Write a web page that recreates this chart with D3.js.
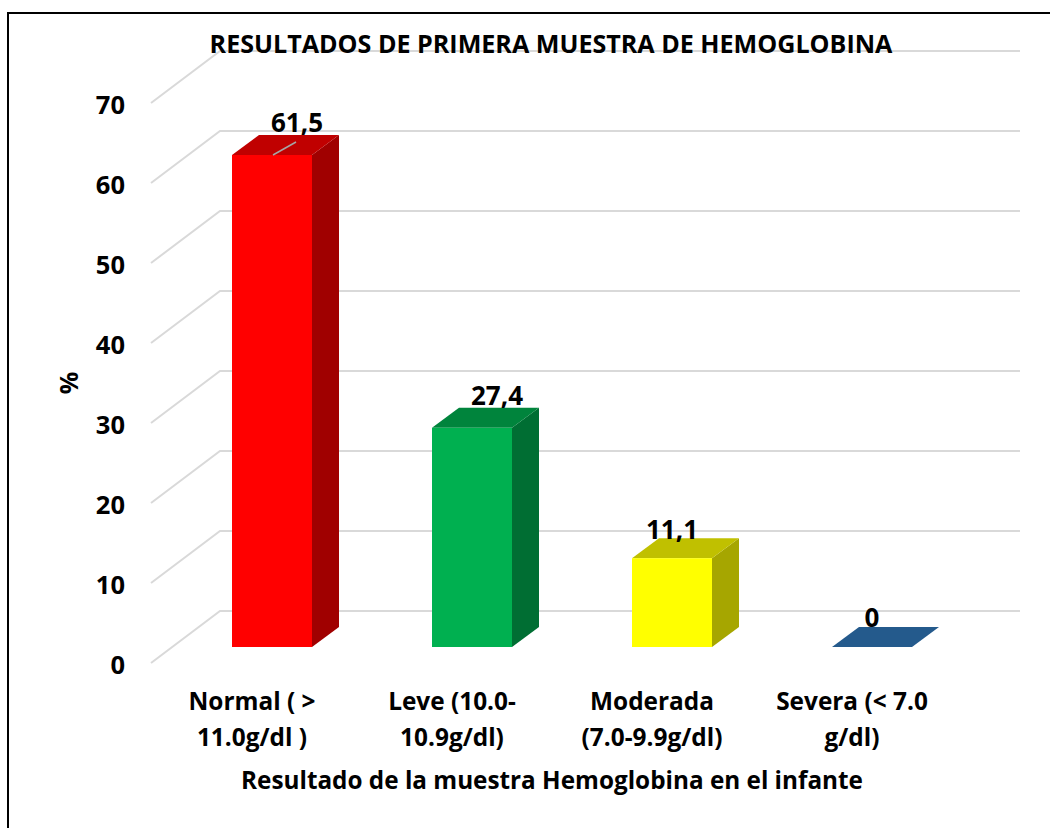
<!DOCTYPE html>
<html>
<head>
<meta charset="utf-8">
<script src="https://cdn.jsdelivr.net/npm/d3@7"></script>
<style>
	html, body { margin: 0; padding: 0; background: #fff; overflow: hidden; }
	svg { display: block; }
	text { font-family: "Open Sans", Lato, sans-serif; font-weight: 700; fill: #000; }
</style>
</head>
<body>
<svg class="chart"></svg>
<script>
var categories = ["Normal ( > 11.0g/dl )", "Leve (10.0- 10.9g/dl)", "Moderada (7.0-9.9g/dl)", "Severa (< 7.0 g/dl)"];
var categoryLines = [["Normal ( >", "11.0g/dl )"], ["Leve (10.0-", "10.9g/dl)"], ["Moderada", "(7.0-9.9g/dl)"], ["Severa (< 7.0", "g/dl)"]];
var values = [61.5, 27.4, 11.1, 0];
var valueLabels = ["61,5", "27,4", "11,1", "0"];
var frontColors = ["#ff0000", "#00b050", "#ffff00", "#2e75b6"];
var topColors = ["#c00000", "#00843c", "#c0c000", "#245a8c"];
var sideColors = ["#a00000", "#006e33", "#a6a600", "#1f4e79"];
var yTicks = [0, 10, 20, 30, 40, 50, 60, 70];

var chartTitle = "RESULTADOS DE PRIMERA MUESTRA DE HEMOGLOBINA";
var xTitle = "Resultado de la muestra Hemoglobina en el infante";
var yTitle = "%";

var width = 1050, height = 828;
var depthX = 27, depthY = -20;

// The first two value labels were dragged off-centre in the original
var labelShiftX = [25, 25, 0, 0];
var labelShiftY = [-23, -23, -19, -20];

var svg = d3.select(".chart").attr("width", width).attr("height", height);

// Frame: only the top and left edges are in the picture
svg.append("path")
	.attr("fill", "none")
	.attr("stroke", "#000")
	.attr("stroke-width", 2)
	.attr("d", "M1050,13H8V828");

var x = d3.scaleBand()
	.domain(categories)
	.range([172, 972])
	.paddingInner(0.6)
	.paddingOuter(0.3);

// y is the front plane of the bars
var y = d3.scaleLinear().domain([0, 70]).range([647, 87]);

// Gridlines: slanted floor part then the back wall
var grid = svg.append("g");
grid.selectAll("path")
	.data(yTicks)
  .enter().append("path")
	.attr("fill", "none")
	.attr("stroke", "#d9d9d9")
	.attr("stroke-width", 2)
	.attr("d", function(d) {
		var b = y(d) - 36;
		return "M151," + (b + 52) + "L220," + b + "L1020," + b;
	});

// Y axis labels
svg.append("g").selectAll("text")
	.data(yTicks)
  .enter().append("text")
	.attr("x", 125)
	.attr("y", function(d) { return y(d) + 27; })
	.attr("text-anchor", "end")
	.attr("font-size", 25.5)
	.text(function(d) { return d; });

// Bars: front, top and side faces
var bars = svg.append("g").selectAll("g")
	.data(categories)
  .enter().append("g");

bars.append("path")
	.attr("fill", function(d, i) { return sideColors[i]; })
	.attr("d", function(d, i) {
		var r = x(d) + x.bandwidth(), t = y(values[i]), b = y(0);
		return "M" + r + "," + t + "l" + depthX + "," + depthY + "L" + (r + depthX) + "," + (b + depthY) + "L" + r + "," + b + "Z";
	});

bars.append("path")
	.attr("fill", function(d, i) { return topColors[i]; })
	.attr("d", function(d, i) {
		var l = x(d), t = y(values[i]), w = x.bandwidth();
		return "M" + l + "," + t + "l" + depthX + "," + depthY + "h" + w + "l" + (-depthX) + "," + (-depthY) + "Z";
	});

bars.append("rect")
	.attr("x", function(d) { return x(d); })
	.attr("y", function(d, i) { return y(values[i]); })
	.attr("width", x.bandwidth())
	.attr("height", function(d, i) { return y(0) - y(values[i]); })
	.attr("fill", function(d, i) { return frontColors[i]; });

// Leader line on the first label
svg.append("line")
	.attr("x1", x(categories[0]) + 41).attr("y1", y(values[0]))
	.attr("x2", x(categories[0]) + 64).attr("y2", y(values[0]) - 13)
	.attr("stroke", "#a6a6a6").attr("stroke-width", 1.5);

// Value labels
svg.append("g").selectAll("text")
	.data(categories)
  .enter().append("text")
	.attr("x", function(d, i) { return x(d) + x.bandwidth() / 2 + labelShiftX[i]; })
	.attr("y", function(d, i) { return y(values[i]) + labelShiftY[i]; })
	.attr("text-anchor", "middle")
	.attr("font-size", 26)
	.text(function(d, i) { return valueLabels[i]; });

// Category labels
var catLabels = svg.append("g").selectAll("text")
	.data(categories)
  .enter().append("text")
	.attr("text-anchor", "middle")
	.attr("font-size", 24.4);
catLabels.selectAll("tspan")
	.data(function(d, i) { return categoryLines[i].map(function(t) { return { text: t, cat: d }; }); })
  .enter().append("tspan")
	.attr("x", function(d) { return x(d.cat) + x.bandwidth() / 2 - 20; })
	.attr("y", function(d, i) { return 710 + i * 36; })
	.text(function(d) { return d.text; });

// Titles
svg.append("text")
	.attr("x", 551).attr("y", 53)
	.attr("text-anchor", "middle")
	.attr("font-size", 25.1)
	.text(chartTitle);

svg.append("text")
	.attr("x", 552).attr("y", 789)
	.attr("text-anchor", "middle")
	.attr("font-size", 24.3)
	.text(xTitle);

svg.append("text")
	.attr("transform", "translate(78,383) rotate(-90)")
	.attr("text-anchor", "middle")
	.attr("font-size", 25)
	.text(yTitle);
</script>
</body>
</html>
